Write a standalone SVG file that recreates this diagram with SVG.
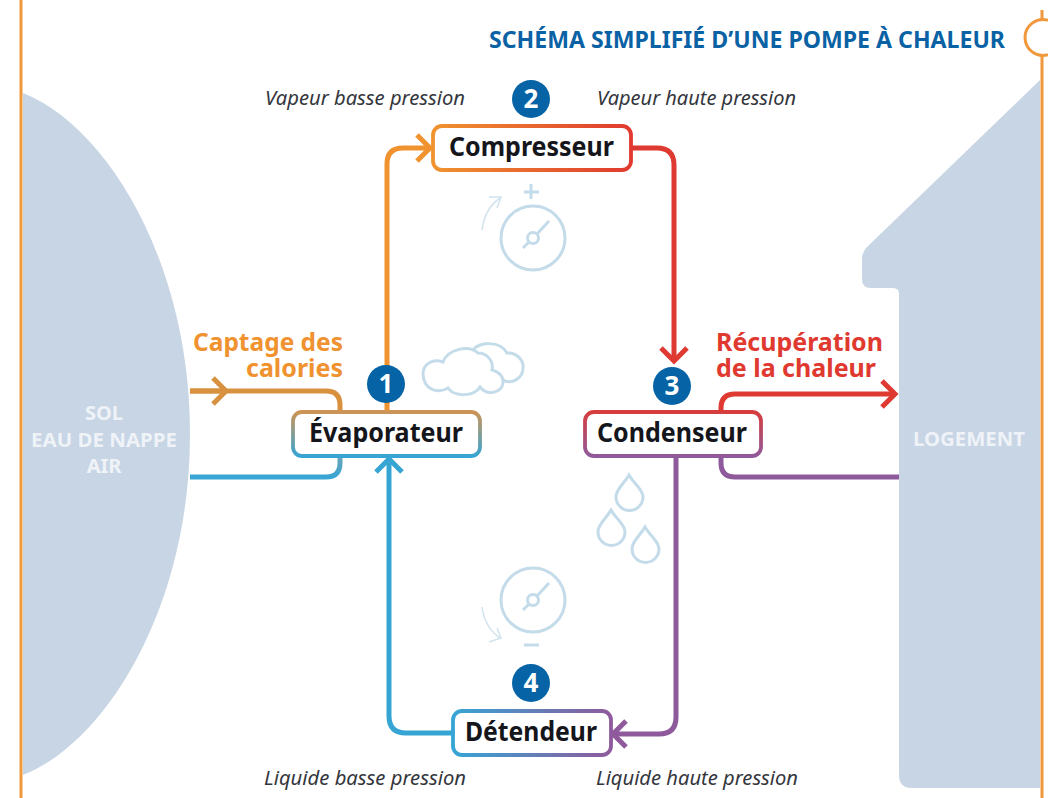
<svg xmlns="http://www.w3.org/2000/svg" width="1048" height="798" viewBox="0 0 1048 798">
<style>
.lbl{font-family:"Noto Sans","Open Sans",sans-serif}
.title{font-weight:700;font-size:24px;fill:#0a62a5}
.it{font-style:italic;font-size:20px;fill:#33363c}
.nd{font-weight:700;font-size:26px;fill:#14161b}
.cap{font-weight:700;font-size:25px}
.zone{font-weight:700;font-size:20px;fill:#eff3f8}
.num{font-weight:700;font-size:26px;fill:#fff;text-anchor:middle}
.badge{fill:#0563a6}
.box{fill:#fff;stroke-width:3.8}
.con{fill:none;stroke-width:5}
.ico{fill:none;stroke:#c4dbe9;stroke-width:3}
.thin{fill:none;stroke:#d3e4ef;stroke-width:1.6}
.edge{fill:none;stroke:#f0983c;stroke-width:3}
.mass{fill:#c7d5e5}
</style>
<defs>
<linearGradient id="gComp" gradientUnits="userSpaceOnUse" x1="433" y1="0" x2="631" y2="0"><stop offset="0" stop-color="#f0932f"/><stop offset="1" stop-color="#e0392f"/></linearGradient>
<linearGradient id="gEvap" gradientUnits="userSpaceOnUse" x1="0" y1="411" x2="0" y2="457"><stop offset="0" stop-color="#cf9453"/><stop offset="1" stop-color="#35a5d5"/></linearGradient>
<linearGradient id="gCond" gradientUnits="userSpaceOnUse" x1="0" y1="411" x2="0" y2="457"><stop offset="0" stop-color="#d83c3c"/><stop offset="1" stop-color="#8f5a9c"/></linearGradient>
<linearGradient id="gDet" gradientUnits="userSpaceOnUse" x1="452" y1="0" x2="611" y2="0"><stop offset="0" stop-color="#35a5d5"/><stop offset="1" stop-color="#8f5a9c"/></linearGradient>
<linearGradient id="gTanBlue" gradientUnits="userSpaceOnUse" x1="0" y1="457" x2="0" y2="477"><stop offset="0" stop-color="#6fa3b8"/><stop offset="1" stop-color="#38a5d4"/></linearGradient>
<marker id="aOrange" markerUnits="userSpaceOnUse" markerWidth="24" markerHeight="34" refX="17" refY="17" orient="auto"><path d="M3 4 L16 17 L3 30" fill="none" stroke="#f0932f" stroke-width="5"/></marker>
<marker id="aTan" markerUnits="userSpaceOnUse" markerWidth="24" markerHeight="34" refX="17" refY="17" orient="auto"><path d="M3 4 L16 17 L3 30" fill="none" stroke="#d8923f" stroke-width="5"/></marker>
<marker id="aRed" markerUnits="userSpaceOnUse" markerWidth="24" markerHeight="34" refX="17" refY="17" orient="auto"><path d="M3 4 L16 17 L3 30" fill="none" stroke="#de3a32" stroke-width="5"/></marker>
<marker id="aBlue" markerUnits="userSpaceOnUse" markerWidth="24" markerHeight="34" refX="17" refY="17" orient="auto"><path d="M3 4 L16 17 L3 30" fill="none" stroke="#36a5d4" stroke-width="5"/></marker>
<marker id="aPurple" markerUnits="userSpaceOnUse" markerWidth="24" markerHeight="34" refX="17" refY="17" orient="auto"><path d="M3 4 L16 17 L3 30" fill="none" stroke="#8f5a9c" stroke-width="5"/></marker>
</defs>
<rect width="1048" height="798" fill="#fff"/>
<g id="frame">
<path class="edge" d="M21 0V798"/>
<path class="edge" d="M1042 10V20M1042 55V798"/>
<path class="edge" d="M1048 20.200A18 18 0 1 0 1048 54.800"/>
</g>
<g id="sol"><path class="mass" d="M23 93C105 125 190 260 190 434C190 608 105 743 23 775Z"/>
<text class="lbl zone" x="104" y="420" text-anchor="middle">SOL</text>
<text class="lbl zone" x="104" y="447" text-anchor="middle" textLength="146" lengthAdjust="spacingAndGlyphs">EAU DE NAPPE</text>
<text class="lbl zone" x="104" y="473" text-anchor="middle">AIR</text></g>
<g id="logement"><path class="mass" d="M1040 80L867 247Q862 252 862 259V279Q862 288 871 288H893Q899 288 899 294V775Q899 788 912 788H1040Z"/>
<text class="lbl zone" x="913" y="446" textLength="112" lengthAdjust="spacingAndGlyphs">LOGEMENT</text></g>
<g id="connectors">
<path class="con" stroke="#f0932f" marker-end="url(#aOrange)" d="M387 411V164Q387 148 403 148H431"/>
<path class="con" stroke="#de3a32" marker-end="url(#aRed)" d="M631 148H657Q674 148 674 165V362"/>
<path class="con" stroke="#8f5a9c" marker-end="url(#aPurple)" d="M676 457V717Q676 734 659 734H612"/>
<path class="con" stroke="#36a5d4" marker-end="url(#aBlue)" d="M452 733H406Q389 733 389 716V458"/>
<path class="con" stroke="#d8923f" d="M190 391H326Q340 391 340 405V411"/>
<path d="M190 391H227" class="con" stroke="#d8923f" marker-end="url(#aTan)"/>
<path class="con" stroke="#38a5d4" d="M190 477H326"/>
<path class="con" stroke="url(#gTanBlue)" d="M326 477Q340 477 340 463V457"/>
<path class="con" stroke="#de3a32" marker-end="url(#aRed)" d="M721 411V408Q721 394 735 394H896"/>
<path class="con" stroke="#8f5a9c" d="M721 457V463Q721 477 735 477H899"/>
</g>
<g id="icons">
<g id="gauge-plus"><circle class="ico" cx="533" cy="238" r="32"/><circle class="ico" cx="533" cy="238" r="5.500"/><path class="ico" d="M537 234L549 221M529 242L523 248"/><path class="ico" d="M531 184V199M524 192H539"/><path class="thin" d="M482 230Q485 208 500 198M489 197L501 197L497 208"/></g>
<g id="gauge-minus"><circle class="ico" cx="533" cy="600" r="32"/><circle class="ico" cx="533" cy="600" r="5.500"/><path class="ico" d="M537 596L549 583M529 604L523 610"/><path class="ico" d="M524 645H539"/><path class="thin" d="M482 607Q485 628 500 638M489 642L501 638L497 628"/></g>
<g id="drops"><path class="ico" d="M629 475C624 484 616 489 616 497A13.500 13.500 0 0 0 643 497C643 489 634 484 629 475Z"/>
<path class="ico" d="M611 510C606 519 598 524 598 532A13.500 13.500 0 0 0 625 532C625 524 616 519 611 510Z"/>
<path class="ico" d="M645 527C640 536 632 541 632 549A13.500 13.500 0 0 0 659 549C659 541 650 536 645 527Z"/></g>
<g id="cloud"><path class="ico" d="M448 388C440 393 424 392 423 374C423 364 433 358 443 362C447 350 468 344 478 353C487 353 494 361 492 370C500 372 504 378 503 383C502 392 488 397 480 387C474 397 454 397 448 388Z"/><path class="ico" d="M473 350C478 342 500 340 507 353C516 352 524 360 523 368C523 378 512 385 503 380"/></g>
</g>
<g id="compresseur"><rect class="box" stroke="url(#gComp)" x="433" y="126" width="198" height="44" rx="9"/><text class="lbl nd" x="449" y="156" textLength="165" lengthAdjust="spacingAndGlyphs">Compresseur</text></g>
<g id="evaporateur"><rect class="box" stroke="url(#gEvap)" x="293" y="412" width="187" height="44" rx="9"/><text class="lbl nd" x="309" y="442" textLength="154" lengthAdjust="spacingAndGlyphs">Évaporateur</text></g>
<g id="condenseur"><rect class="box" stroke="url(#gCond)" x="585" y="412" width="176" height="44" rx="9"/><text class="lbl nd" x="597" y="442" textLength="150" lengthAdjust="spacingAndGlyphs">Condenseur</text></g>
<g id="detendeur"><rect class="box" stroke="url(#gDet)" x="453" y="711" width="158" height="44" rx="9"/><text class="lbl nd" x="465" y="741" textLength="132" lengthAdjust="spacingAndGlyphs">Détendeur</text></g>
<g id="b1"><circle class="badge" cx="386" cy="384" r="19"/><text class="lbl num" x="386" y="393">1</text></g>
<g id="b2"><circle class="badge" cx="531" cy="99" r="19"/><text class="lbl num" x="531" y="108">2</text></g>
<g id="b3"><circle class="badge" cx="672" cy="386" r="19"/><text class="lbl num" x="672" y="395">3</text></g>
<g id="b4"><circle class="badge" cx="531" cy="683" r="19"/><text class="lbl num" x="531" y="692">4</text></g>
<g id="labels">
<text class="lbl title" x="489" y="48" textLength="516" lengthAdjust="spacingAndGlyphs">SCHÉMA SIMPLIFIÉ D’UNE POMPE À CHALEUR</text>
<text class="lbl it" x="265" y="105" textLength="200" lengthAdjust="spacingAndGlyphs">Vapeur basse pression</text>
<text class="lbl it" x="597" y="105" textLength="199" lengthAdjust="spacingAndGlyphs">Vapeur haute pression</text>
<text class="lbl it" x="264" y="785" textLength="202" lengthAdjust="spacingAndGlyphs">Liquide basse pression</text>
<text class="lbl it" x="596" y="785" textLength="202" lengthAdjust="spacingAndGlyphs">Liquide haute pression</text>
<text class="lbl cap" fill="#f0922f" x="193" y="351" textLength="150" lengthAdjust="spacingAndGlyphs">Captage des</text>
<text class="lbl cap" fill="#f0922f" x="246" y="377" textLength="97" lengthAdjust="spacingAndGlyphs">calories</text>
<text class="lbl cap" fill="#e0392f" x="716" y="351" textLength="167" lengthAdjust="spacingAndGlyphs">Récupération</text>
<text class="lbl cap" fill="#e0392f" x="716" y="377" textLength="160" lengthAdjust="spacingAndGlyphs">de la chaleur</text>
</g>
</svg>
